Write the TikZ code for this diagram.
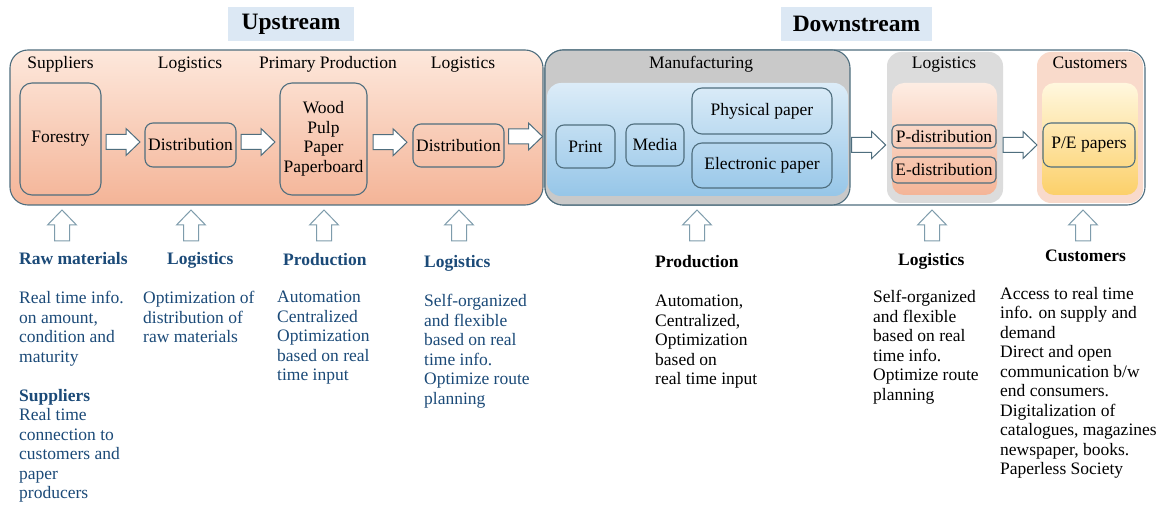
\documentclass[tikz,border=0pt]{standalone}
\usepackage{fontspec}
\setmainfont{Liberation Serif}
\usetikzlibrary{calc}
\definecolor{edge}{HTML}{4F6E7E}
\definecolor{arredge}{HTML}{7E9CAC}
\definecolor{txtblue}{HTML}{1B4A78}
\definecolor{headbg}{HTML}{DCE8F4}
\definecolor{salT}{HTML}{FDE8DC}
\definecolor{salB}{HTML}{F4B497}
\definecolor{mangray}{HTML}{C9C9C9}
\definecolor{loggray}{HTML}{DCDCDC}
\definecolor{blueT}{HTML}{DCECF8}
\definecolor{blueB}{HTML}{96C6E8}
\definecolor{custbg}{HTML}{F9DACB}
\definecolor{yelT}{HTML}{FFF7DE}
\definecolor{yelB}{HTML}{FCD06A}
\newcommand{\bfn}{\fontsize{17.5}{19.5}\selectfont}
\newcommand{\hfn}{\fontsize{23.5}{26}\selectfont\bfseries}
\tikzset{
  frame/.style={draw=edge, line width=1.1pt, rounded corners=#1, inner sep=0, align=center, font=\bfn},
  frame/.default=8pt,
  soft/.style={rounded corners=#1, inner sep=0},
  soft/.default=14pt,
  lbl/.style={font=\bfn, inner sep=0, anchor=base},
  head/.style={font=\hfn, fill=headbg, inner sep=0, minimum height=34},
  col/.style={font=\bfn, inner sep=0, anchor=north west, align=left},
  blk/.style={draw=edge, line width=1pt, fill=white, line join=miter},
  ublk/.style={draw=arredge, line width=1pt, fill=white, line join=miter},
  rarr/.pic={\draw[blk] (-17,-7.5) -- (3,-7.5) -- (3,-13.5) -- (17,0) -- (3,13.5) -- (3,7.5) -- (-17,7.5) -- cycle;},
  uarr/.pic={\draw[ublk] (0,0) -- (14.5,15) -- (7.5,15) -- (7.5,31) -- (-7.5,31) -- (-7.5,15) -- (-14.5,15) -- cycle;}
}
\begin{document}
\begin{tikzpicture}[x=1pt,y=-1pt]
\useasboundingbox[fill=white] (0,0) rectangle (1166,529);

% headings
\node[head, minimum width=126] (uphead) at (291,24) {Upstream};
\node[head, minimum width=151] (downhead) at (856.5,24) {Downstream};

% big containers
\node[frame=18pt, top color=salT, bottom color=salB, minimum width=533, minimum height=155] (up) at (276.5,127.5) {};
\node[frame=18pt, fill=white, minimum width=600, minimum height=155] (down) at (845,127.5) {};
\node[frame=18pt, fill=mangray, minimum width=305, minimum height=155] (manuf) at (697.5,127.5) {};
\node[soft=14pt, fill=loggray, minimum width=116, minimum height=151] (loggr) at (945,127.5) {};
\node[soft=14pt, fill=custbg, minimum width=106, minimum height=151] (custgr) at (1090,127.5) {};

% inner gradients
\node[soft=14pt, top color=blueT, bottom color=blueB, minimum width=301, minimum height=113] (blue) at (697.5,139.5) {};
\node[soft=12pt, top color=salT!80!white, bottom color=salB, minimum width=105, minimum height=112] (login) at (944.5,139) {};
\node[soft=12pt, top color=yelT, bottom color=yelB, minimum width=96, minimum height=112] (custin) at (1090,139) {};

% top labels
\node[lbl] (l1) at (60.5,69) {Suppliers};
\node[lbl] (l2) at (190,69) {Logistics};
\node[lbl] (l3) at (328,69) {Primary Production};
\node[lbl] (l4) at (463,69) {Logistics};
\node[lbl] (l5) at (701,69) {Manufacturing};
\node[lbl] (l6) at (944,69) {Logistics};
\node[lbl] (l7) at (1090,69) {Customers};

% boxes
\node[frame=12pt, minimum width=81, minimum height=112] (forestry) at (60.5,139) {Forestry};
\node[frame=8pt, minimum width=91, minimum height=44] (dist1) at (190.5,145) {Distribution};
\node[frame=12pt, minimum width=87, minimum height=112] (wood) at (323.5,139) {Wood\\Pulp\\Paper\\Paperboard};
\node[frame=8pt, minimum width=91, minimum height=43] (dist2) at (458.5,145.5) {Distribution};
\node[frame=8pt, minimum width=59, minimum height=43] (print) at (585.5,146.5) {Print};
\node[frame=8pt, minimum width=58, minimum height=42] (media) at (655,145) {Media};
\node[frame=10pt, minimum width=140, minimum height=46] (phys) at (762,111) {Physical paper};
\node[frame=10pt, minimum width=140, minimum height=45] (elec) at (762,165.5) {Electronic paper};
\node[frame=5pt, minimum width=104, minimum height=23] (pdist) at (944,136.5) {P-distribution};
\node[frame=5pt, minimum width=104, minimum height=26] (edist) at (944,170) {E-distribution};
\node[frame=8pt, minimum width=92, minimum height=44] (pe) at (1089,145) {P/E papers};

% flow arrows
\pic at ($(forestry.east)!0.5!(dist1.west)$) {rarr};
\pic at ($(dist1.east)!0.5!(wood.west)$) {rarr};
\pic at ($(wood.east)!0.5!(dist2.west)$) {rarr};
\pic at ($(dist2.east)!0.5!(manuf.west)+(1,0)$) {rarr};
\pic at ($(manuf.east)!0.5!(loggr.west)+(0,17.5)$) {rarr};
\pic at ($(loggr.east)!0.5!(custgr.west)+(0,17.5)$) {rarr};

% up arrows
\pic at (62,210) {uarr};
\pic at (191,210) {uarr};
\pic at (324,210) {uarr};
\pic at (459,210) {uarr};
\pic at (697,210) {uarr};
\pic at (932,210) {uarr};
\pic at (1083,210) {uarr};

% lower texts
\node[col, text=txtblue, font=\bfn\bfseries] (h1) at (19,252) {Raw materials};
\node[col, text=txtblue] (t1) at (19,291) {Real time info.\\on amount,\\condition and\\maturity\\[19.5pt]\textbf{Suppliers}\\Real time\\connection to\\customers and\\paper\\producers};
\node[col, text=txtblue, font=\bfn\bfseries] (h2) at (167,252) {Logistics};
\node[col, text=txtblue] (t2) at (143,291) {Optimization of\\distribution of\\raw materials};
\node[col, text=txtblue, font=\bfn\bfseries] (h3) at (283,253) {Production};
\node[col, text=txtblue] (t3) at (277,291) {Automation\\Centralized\\Optimization\\based on real\\time input};
\node[col, text=txtblue, font=\bfn\bfseries] (h4) at (424,255) {Logistics};
\node[col, text=txtblue] (t4) at (424,294) {Self-organized\\and flexible\\based on real\\time info.\\Optimize route\\planning};
\node[col, font=\bfn\bfseries] (h5) at (655,255) {Production};
\node[col] (t5) at (655,295) {Automation,\\Centralized,\\Optimization\\based on\\real time input};
\node[col, font=\bfn\bfseries] (h6) at (898,253) {Logistics};
\node[col] (t6) at (873,290) {Self-organized\\and flexible\\based on real\\time info.\\Optimize route\\planning};
\node[col, font=\bfn\bfseries] (h7) at (1045,250) {Customers};
\node[col] (t7) at (1000,287) {Access to real time\\info. on supply and\\demand\\Direct and open\\communication b/w\\end consumers.\\Digitalization of\\catalogues, magazines\\newspaper, books.\\Paperless Society};
\end{tikzpicture}
\end{document}
